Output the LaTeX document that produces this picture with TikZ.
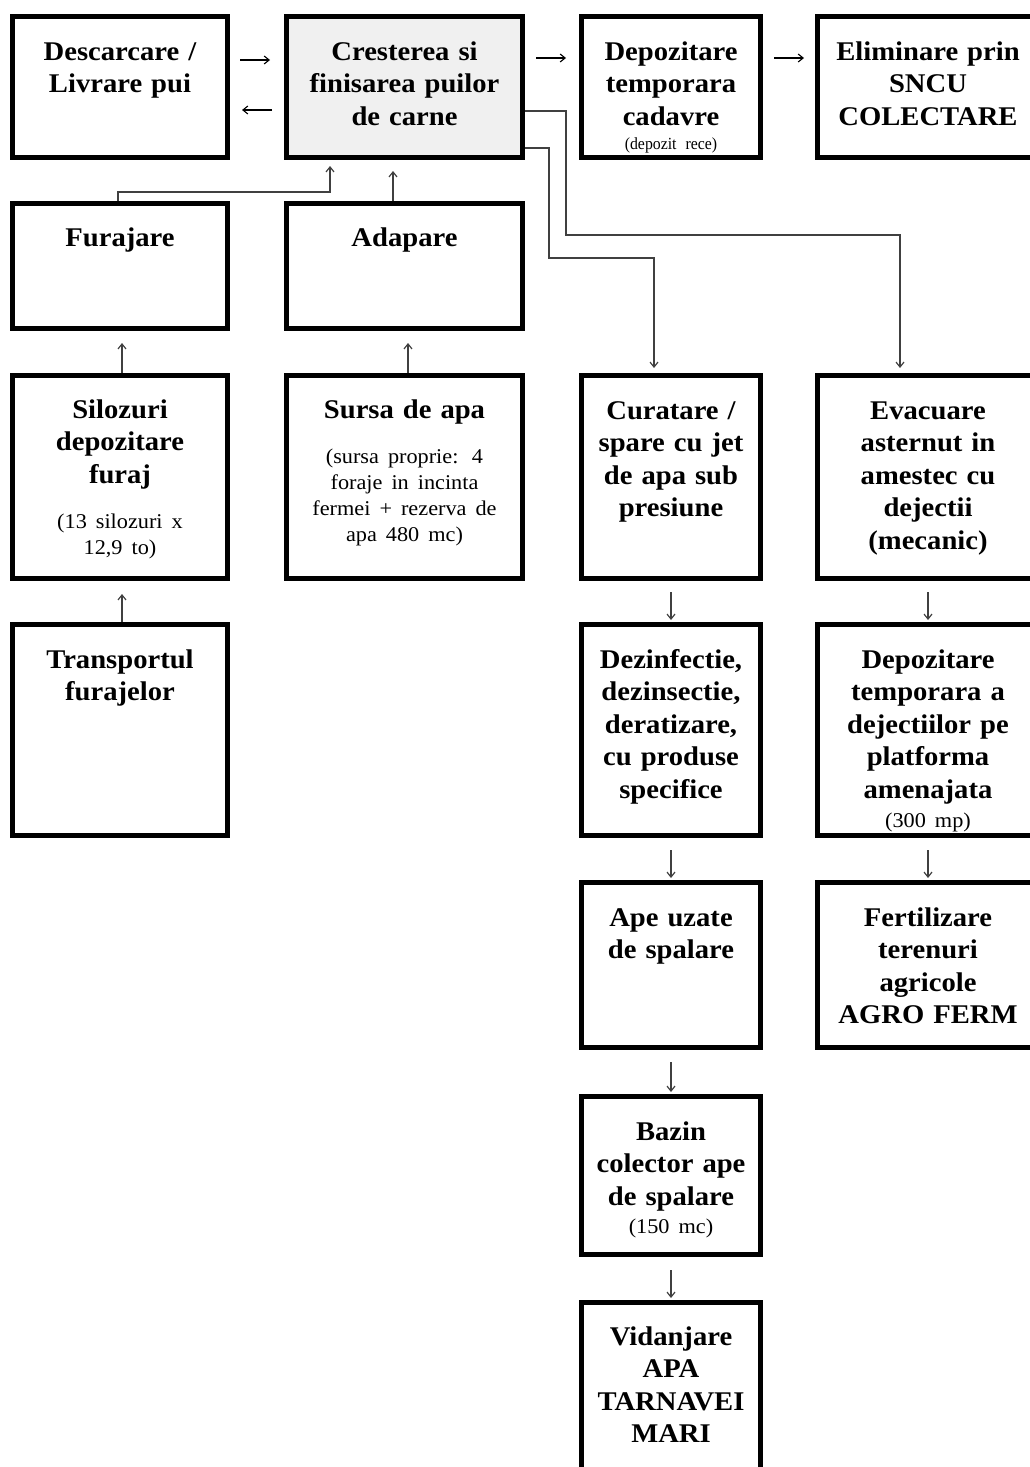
\documentclass[tikz,border=0pt]{standalone}
\usepackage{fontspec}
\setmainfont[WordSpace=0.8]{Liberation Serif}
\newfontfamily\boxfont[FakeStretch=1.06,WordSpace=0.8]{Liberation Serif}
\usetikzlibrary{arrows.meta,calc}
\newcommand\notef{\fontsize{21}{26}\selectfont\mdseries}
\begin{document}
\begin{tikzpicture}[x=1pt,y=-1pt,
  box/.style={draw=black,line width=5pt,inner sep=0pt,outer sep=2.5pt,fill=white},
  txt/.style={font=\boxfont\fontsize{27}{32.5}\selectfont\bfseries,align=center,inner sep=0pt,text width=215pt,anchor=base},
  conn/.style={draw=black!75,line width=1.2pt,-{Straight Barb[length=5pt,width=8pt]}},
  harr/.style={draw=black,line width=1.1pt,-{Straight Barb[length=5pt,width=8pt]}}
]
\useasboundingbox (0,0) rectangle (1030,1467);
\begin{scope}
\clip (0,0) rectangle (1030,1467);
% boxes
\node[box,minimum width=215pt,minimum height=141pt] (dsc) at (120,87) {};
\node[box,minimum width=236pt,minimum height=141pt,fill=black!6] (cre) at (404.5,87) {};
\node[box,minimum width=179pt,minimum height=141pt] (dep) at (671,87) {};
\node[box,minimum width=221pt,minimum height=141pt] (eli) at (928,87) {};
\node[box,minimum width=215pt,minimum height=125pt] (fur) at (120,266) {};
\node[box,minimum width=236pt,minimum height=125pt] (ada) at (404.5,266) {};
\node[box,minimum width=215pt,minimum height=203pt] (sil) at (120,477) {};
\node[box,minimum width=236pt,minimum height=203pt] (sur) at (404.5,477) {};
\node[box,minimum width=179pt,minimum height=203pt] (cur) at (671,477) {};
\node[box,minimum width=221pt,minimum height=203pt] (eva) at (928,477) {};
\node[box,minimum width=215pt,minimum height=211pt] (tra) at (120,730) {};
\node[box,minimum width=179pt,minimum height=211pt] (dez) at (671,730) {};
\node[box,minimum width=221pt,minimum height=211pt] (dpt) at (928,730) {};
\node[box,minimum width=179pt,minimum height=165pt] (ape) at (671,965) {};
\node[box,minimum width=221pt,minimum height=165pt] (fer) at (928,965) {};
\node[box,minimum width=179pt,minimum height=158pt] (baz) at (671,1175.5) {};
\node[box,minimum width=179pt,minimum height=175pt] (vid) at (671,1390) {};
\end{scope}
% texts
\node[txt] (tdsc) at ([yshift=-46pt]dsc.north) {Descarcare /\\Livrare pui};
\node[txt] (tcre) at ([yshift=-46pt]cre.north) {Cresterea si\\finisarea puilor\\de carne};
\node[txt] (tdep) at ([yshift=-46pt]dep.north) {Depozitare\\temporara\\cadavre\par{\fontsize{17}{24}\selectfont\mdseries\addfontfeature{FakeStretch=0.93}(depozit rece)\par}};
\node[txt] (teli) at ([yshift=-46pt]eli.north) {Eliminare prin\\SNCU\\COLECTARE};
\node[txt] (tfur) at ([yshift=-45pt]fur.north) {Furajare};
\node[txt] (tada) at ([yshift=-45pt]ada.north) {Adapare};
\node[txt] (tsil) at ([yshift=-45pt]sil.north) {Silozuri\\depozitare\\furaj\par\vspace{19pt}{\notef (13 silozuri x\\12,9 to)\par}};
\node[txt] (tsur) at ([yshift=-45pt]sur.north) {Sursa de apa\par\vspace{19pt}{\notef (sursa proprie: 4\\foraje in incinta\\fermei + rezerva de\\apa 480 mc)\par}};
\node[txt] (tcur) at ([yshift=-46pt]cur.north) {Curatare /\\spare cu jet\\de apa sub\\presiune};
\node[txt] (teva) at ([yshift=-46pt]eva.north) {Evacuare\\asternut in\\amestec cu\\dejectii\\(mecanic)};
\node[txt] (ttra) at ([yshift=-46pt]tra.north) {Transportul\\furajelor};
\node[txt] (tdez) at ([yshift=-46pt]dez.north) {Dezinfectie,\\dezinsectie,\\deratizare,\\cu produse\\specifice};
\node[txt] (tdpt) at ([yshift=-46pt]dpt.north) {Depozitare\\temporara a\\dejectiilor pe\\platforma\\amenajata\par{\fontsize{21}{29}\selectfont\mdseries (300 mp)\par}};
\node[txt] (tape) at ([yshift=-46pt]ape.north) {Ape uzate\\de spalare};
\node[txt] (tfer) at ([yshift=-46pt]fer.north) {Fertilizare\\terenuri\\agricole\\AGRO FERM};
\node[txt] (tbaz) at ([yshift=-46pt]baz.north) {Bazin\\colector ape\\de spalare\par{\fontsize{21}{28}\selectfont\mdseries (150 mc)\par}};
\node[txt] (tvid) at ([yshift=-45pt]vid.north) {Vidanjare\\APA\\TARNAVEI\\MARI};
% horizontal arrows in row 1
\draw[harr] ([xshift=10pt,yshift=27pt]dsc.east) -- ([xshift=-14pt,yshift=27pt]cre.west);
\draw[harr] ([xshift=-12pt,yshift=-23pt]cre.west) -- ([xshift=12pt,yshift=-23pt]dsc.east);
\draw[harr] ([xshift=11pt,yshift=29pt]cre.east) -- ([xshift=-13pt,yshift=29pt]dep.west);
\draw[harr] ([xshift=11pt,yshift=29pt]dep.east) -- ([xshift=-11pt,yshift=29pt]eli.west);
% feeding / watering
\coordinate (f1) at ([xshift=-2pt]fur.north);
\draw[conn] (f1) -- ++(0,-9) -| ([xshift=-74.5pt,yshift=-6pt]cre.south);
\draw[conn] ([xshift=-11.5pt]ada.north) -- ([xshift=-11.5pt,yshift=-11pt]cre.south);
\draw[conn] ([xshift=2pt]sil.north) -- ([xshift=2pt,yshift=-12pt]fur.south);
\draw[conn] ([xshift=3.5pt]sur.north) -- ([xshift=3.5pt,yshift=-12pt]ada.south);
\draw[conn] ([xshift=2pt]tra.north) -- ([xshift=2pt,yshift=-13pt]sil.south);
% right branches from Cresterea
\coordinate (c1) at ([yshift=-24pt]cre.east);
\coordinate (c2) at ([yshift=-61pt]cre.east);
\draw[conn] (c1) -- ++(41,0) |- (566,235) -| ([xshift=-28pt,yshift=5pt]eva.north);
\draw[conn] (c2) -- ++(24,0) |- (549,258) -| ([xshift=-17pt,yshift=5pt]cur.north);
% vertical chains
\draw[conn] ([yshift=-11pt]cur.south) -- ([yshift=2pt]dez.north);
\draw[conn] ([yshift=-11pt]eva.south) -- ([yshift=2pt]dpt.north);
\draw[conn] ([yshift=-12pt]dez.south) -- ([yshift=2pt]ape.north);
\draw[conn] ([yshift=-12pt]dpt.south) -- ([yshift=2pt]fer.north);
\draw[conn] ([yshift=-12pt]ape.south) -- ([yshift=2pt]baz.north);
\draw[conn] ([yshift=-13pt]baz.south) -- ([yshift=2pt]vid.north);
\end{tikzpicture}
\end{document}
